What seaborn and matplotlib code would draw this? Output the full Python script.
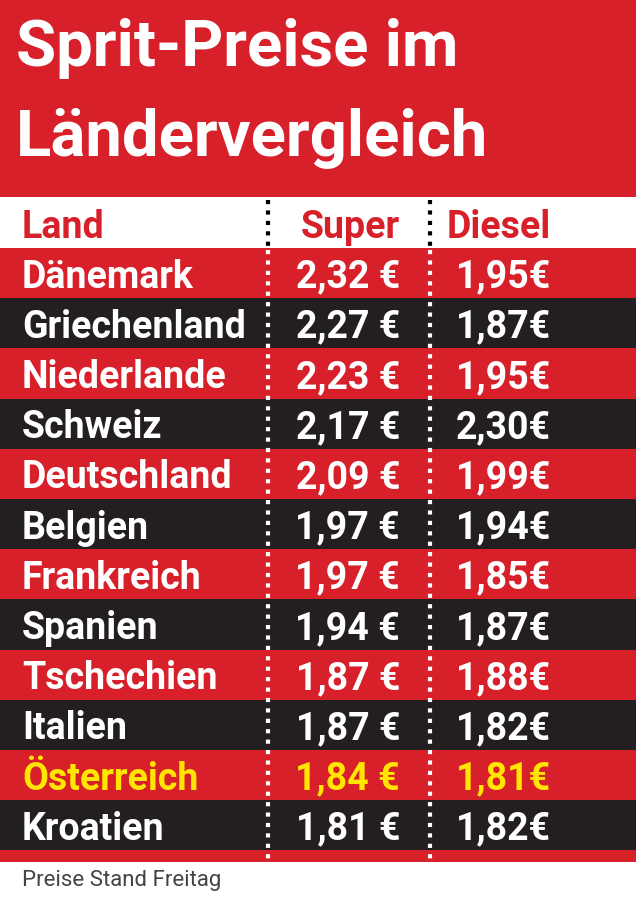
import matplotlib
matplotlib.use("Agg")
import matplotlib.pyplot as plt
import seaborn as sns
import pandas as pd

countries = ["Dänemark","Griechenland","Niederlande","Schweiz","Deutschland","Belgien",
             "Frankreich","Spanien","Tschechien","Italien","Österreich","Kroatien"]
super_prices = ["2,32 €","2,27 €","2,23 €","2,17 €","2,09 €","1,97 €",
                "1,97 €","1,94 €","1,87 €","1,87 €","1,84 €","1,81 €"]
diesel_prices = ["1,95€","1,87€","1,95€","2,30€","1,99€","1,94€",
                 "1,85€","1,87€","1,88€","1,82€","1,81€","1,82€"]
headers = ["Land", "Super", "Diesel"]
title_lines = ["Sprit-Preise im", "Ländervergleich"]
footer = "Preise Stand Freitag"

RED = "#d8202a"; DARK = "#231f20"; YEL = "#ffe500"
sns.set_theme(style="white")
plt.rcParams['font.family'] = ['Liberation Sans Narrow', 'Roboto', 'DejaVu Sans']

W, H = 636, 902
RH = 50.2; y0 = 273  # row 0 centre in px
fig = plt.figure(figsize=(W/100, H/100), dpi=100)
ax = fig.add_axes([0, 0, 1, 1])
top = -y0/RH; bot = (H-y0)/RH
ax.set_xlim(0, W); ax.set_ylim(bot, top); ax.axis("off")

def py(p): return (p - y0)/RH  # px -> row units

ax.axhspan(top, py(197), color=RED, lw=0)
ax.axhspan(py(197), py(248), color="white", lw=0)
ax.axhspan(py(850), py(862), color=RED, lw=0)

df = pd.DataFrame({"row": list(range(len(countries))), "w": [W]*len(countries)})
cols = [RED if i % 2 == 0 else DARK for i in range(len(countries))]
sns.barplot(data=df, x="w", y="row", orient="h", palette=cols, hue="row",
            legend=False, width=1.0, ax=ax, linewidth=0, saturation=1)
ax.set_xlim(0, W); ax.set_ylim(bot, top); ax.axis("off")

for xv in (268, 430):
    ax.plot([xv, xv], [py(200), py(248)], color="black", ls=(0, (1, 1.5)), lw=3)
    ax.plot([xv, xv], [py(250), py(860)], color="white", ls=(0, (1, 1.5)), lw=3)

ax.text(16, py(48), title_lines[0], color="white", fontsize=47, fontweight="bold", va="center")
ax.text(16, py(138), title_lines[1], color="white", fontsize=47, fontweight="bold", va="center")

hy = py(227)
ax.text(22, hy, headers[0], color=RED, fontsize=27, fontweight="bold", va="center")
ax.text(400, hy, headers[1], color=RED, fontsize=27, fontweight="bold", va="center", ha="right")
ax.text(551, hy, headers[2], color=RED, fontsize=27, fontweight="bold", va="center", ha="right")

for i, (c, s, d) in enumerate(zip(countries, super_prices, diesel_prices)):
    col = YEL if c == "Österreich" else "white"
    ax.text(22, i+0.08, c, color=col, fontsize=27, fontweight="bold", va="center")
    ax.text(400, i+0.08, s, color=col, fontsize=27, fontweight="bold", va="center", ha="right")
    ax.text(551, i+0.08, d, color=col, fontsize=27, fontweight="bold", va="center", ha="right")

ax.text(22, py(880), footer, color="#444444", fontsize=16, va="center")
fig.savefig("out.png", dpi=100)
